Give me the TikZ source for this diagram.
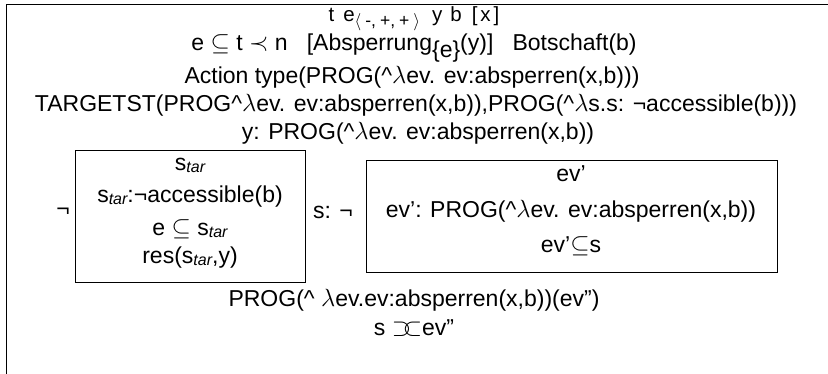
\documentclass[tikz,border=0pt]{standalone}
\usepackage{fontspec}
\setmainfont{Liberation Sans}
\newcommand{\tar}{\raisebox{-2pt}{\fontsize{16}{16}\selectfont\itshape tar}}
\newcommand{\lam}{\textasciicircum$\lambda$}
\tikzset{
  txt/.style={inner sep=0pt, anchor=center, font=\fontsize{23}{26}\selectfont},
  headtxt/.style={inner sep=0pt, anchor=base, font=\fontsize{20.5}{24}\selectfont},
  drsbox/.style={draw, line width=0.8pt, inner sep=0pt},
}
\begin{document}
\begin{tikzpicture}[x=1pt,y=-1pt]
\useasboundingbox (0,0) rectangle (828,374);
% frame
\coordinate (ftr) at (828,5);
\coordinate (ftl) at (6,5);
\coordinate (fbl) at (6,374);
\draw[line width=1pt] (ftr) -- (ftl) -- (fbl);
% head
\node[headtxt] (l1) at (414,22) {t\hspace{9pt}e\raisebox{-5pt}{\fontsize{17.5}{19}\selectfont$\langle$\hspace{4pt}-,\hspace{4pt}+,\hspace{4pt}+\hspace{4pt}$\rangle$}\hspace{12pt}y\hspace{8pt}b\hspace{10pt}[\hspace{3pt}x\hspace{3pt}]};
\node[txt] (l2) at (414,48) {e $\subseteq$ t $\prec$ n\ \ \ [Absperrung\raisebox{-7pt}{\{e\}}(y)]\ \ \ Botschaft(b)};
\node[txt] (l3) at (412,77) {Action type(PROG(\lam ev. ev:absperren(x,b)))};
\node[txt] (l4) at (416,105) {TARGETST(PROG\lam ev. ev:absperren(x,b)),PROG(\lam s.s: ¬accessible(b)))};
\node[txt] (l5) at (418,133) {y: PROG(\lam ev. ev:absperren(x,b))};
% left box
\node[drsbox, minimum width=230pt, minimum height=132pt] (lbox) at (190,216) {};
\node[txt] (lb1) at (190,165) {s\tar};
\node[txt] (lb2) at (190,197) {s\tar:¬accessible(b)};
\node[txt] (lb3) at (190,229) {e $\subseteq$ s\tar};
\node[txt] (lb4) at (190,258) {res(s\tar,y)};
\node[txt] (neg1) at (63,212) {¬};
\node[txt] (sneg) at (333,212) {s: ¬};
% right box
\node[drsbox, minimum width=411pt, minimum height=112pt] (rbox) at (571.5,216) {};
\node[txt] (rb1) at (571,174) {ev’};
\node[txt] (rb2) at (571,211) {ev’: PROG(\lam ev. ev:absperren(x,b))};
\node[txt] (rb3) at (571,246) {ev’$\subseteq$s};
% bottom
\node[txt] (b1) at (414,300) {PROG(\textasciicircum\ $\lambda$ev.ev:absperren(x,b))(ev”)};
\node[txt] (b2) at (414,328) {s $\supset\mkern-6mu\subset$ev”};
\end{tikzpicture}
\end{document}
